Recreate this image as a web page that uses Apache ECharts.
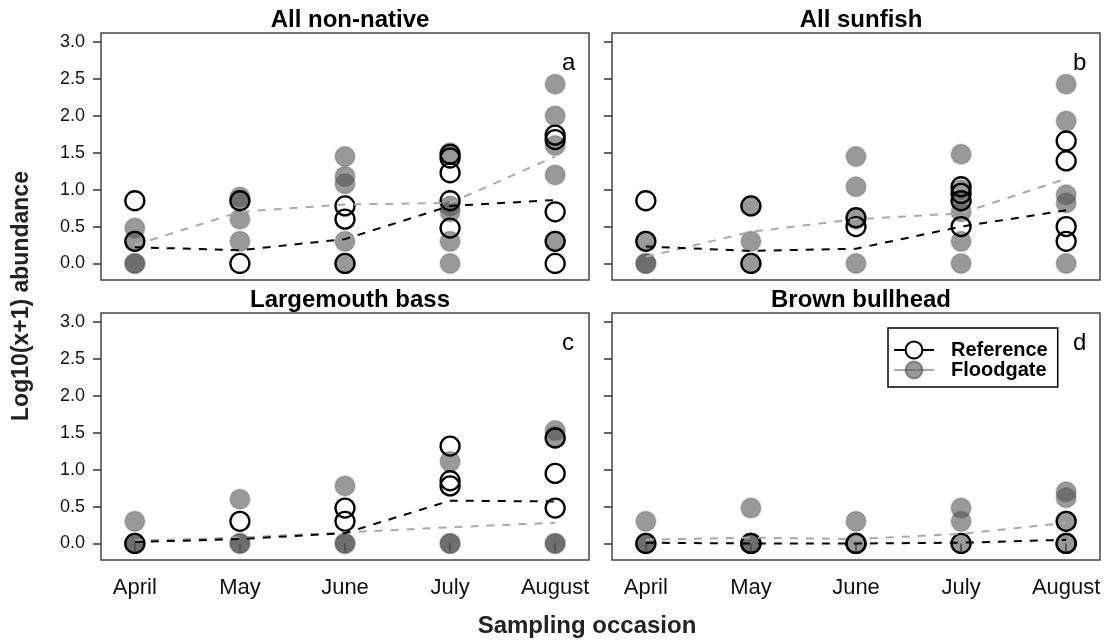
<!DOCTYPE html>
<html>
<head>
<meta charset="utf-8">
<script src="https://cdn.jsdelivr.net/npm/echarts@6/dist/echarts.min.js"></script>
<style>
html,body{margin:0;padding:0;background:#fff;}
#chart{width:1104px;height:640px;}
</style>
</head>
<body>
<div id="chart"></div>
<script>
// ---- data ----
const months = ['April', 'May', 'June', 'July', 'August'];
const yTicks = [0, 0.5, 1, 1.5, 2, 2.5, 3];
const panelTitles = ['All non-native', 'All sunfish', 'Largemouth bass', 'Brown bullhead'];
const panelLetters = ['a', 'b', 'c', 'd'];

// values per month (April..August), log10(x+1)
const nonNativeRef = [[0.85, 0.3], [0.85, 0], [0.78, 0.6, 0], [1.48, 1.43, 1.23, 0.85, 0.48], [1.74, 1.68, 0.7, 0.3, 0]];
const nonNativeFlood = [[0.48, 0.3, 0, 0], [0.9, 0.85, 0.6, 0.3], [1.45, 1.18, 1.08, 0.3, 0], [1.5, 0.78, 0.7, 0.3, 0], [2.43, 2.0, 1.6, 1.2, 0.3]];
const nonNativeRefTrend = [0.22, 0.18, 0.33, 0.78, 0.86];
const nonNativeFloodTrend = [0.25, 0.7, 0.8, 0.82, 1.45];

const sunfishRef = [[0.85, 0.3], [0.78, 0], [0.62, 0.5], [1.04, 0.95, 0.85, 0.5], [1.66, 1.39, 0.5, 0.3]];
const sunfishFlood = [[0.3, 0, 0], [0.78, 0.3, 0], [1.45, 1.04, 0.6, 0], [1.48, 1.0, 0.85, 0.7, 0.3, 0], [2.43, 1.93, 0.93, 0.82, 0]];
const sunfishRefTrend = [0.23, 0.17, 0.2, 0.5, 0.72];
const sunfishFloodTrend = [0.09, 0.43, 0.6, 0.68, 1.15];

const bassRef = [[0], [0.3], [0.48, 0.3], [1.32, 0.85, 0.78], [1.43, 0.95, 0.48]];
const bassFlood = [[0.3, 0, 0], [0.6, 0, 0], [0.78, 0, 0], [1.11, 0, 0], [1.53, 1.45, 0, 0]];
const bassRefTrend = [0.02, 0.06, 0.14, 0.58, 0.57];
const bassFloodTrend = [0.04, 0.08, 0.15, 0.22, 0.28];

const bullheadRef = [[0], [0, 0], [0, 0], [0], [0.3, 0, 0]];
const bullheadFlood = [[0.3, 0, 0], [0.48, 0, 0], [0.3, 0], [0.48, 0.3, 0], [0.7, 0.62, 0.3, 0]];
const bullheadRefTrend = [0.01, 0, 0, 0.01, 0.05];
const bullheadFloodTrend = [0.05, 0.08, 0.06, 0.13, 0.28];

// ---- build ----
const panels = [
  {ref: nonNativeRef, flood: nonNativeFlood, refT: nonNativeRefTrend, floodT: nonNativeFloodTrend},
  {ref: sunfishRef, flood: sunfishFlood, refT: sunfishRefTrend, floodT: sunfishFloodTrend},
  {ref: bassRef, flood: bassFlood, refT: bassRefTrend, floodT: bassFloodTrend},
  {ref: bullheadRef, flood: bullheadFlood, refT: bullheadRefTrend, floodT: bullheadFloodTrend}
];

const FONT = 'Liberation Sans, Arial, sans-serif';
const gridPos = [
  {left: 101, top: 33, width: 488, height: 247},
  {left: 612, top: 33, width: 488, height: 247},
  {left: 101, top: 313, width: 488, height: 247},
  {left: 612, top: 313, width: 488, height: 247}
];
const FLOOD_FILL = 'rgba(80,80,80,0.58)';
const FLOOD_LINE = '#a9a9a9';

function pts(arr) {
  const out = [];
  arr.forEach((vals, i) => vals.forEach(v => out.push([i + 1, v])));
  return out;
}
function trend(arr) { return arr.map((v, i) => [i + 1, v]); }

const grids = [], xAxes = [], yAxes = [], series = [], titles = [], graphics = [];

panels.forEach((p, k) => {
  const bottom = k >= 2, left = (k % 2) === 0;
  grids.push(Object.assign({show: true, borderColor: '#444', borderWidth: 1.5, backgroundColor: 'transparent', containLabel: false}, gridPos[k]));
  xAxes.push({
    type: 'value', gridIndex: k, min: 0.678, max: 5.322,
    axisLine: {show: false}, splitLine: {show: false},
    axisTick: {show: bottom, length: 8, customValues: [1, 2, 3, 4, 5], lineStyle: {color: '#333', width: 1.5}},
    axisLabel: {show: bottom, customValues: [1, 2, 3, 4, 5], margin: 17, fontSize: 22, color: '#111', fontFamily: FONT,
      formatter: v => months[Math.round(v) - 1]}
  });
  yAxes.push({
    type: 'value', gridIndex: k, min: -0.224, max: 3.124,
    axisLine: {show: false}, splitLine: {show: false},
    axisTick: {show: true, length: 8, customValues: yTicks, lineStyle: {color: '#333', width: 1.5}},
    axisLabel: {show: left, customValues: yTicks, margin: 16, fontSize: 18, color: '#111', fontFamily: FONT,
      formatter: v => v.toFixed(1)}
  });
  series.push({
    name: 'Reference', type: 'line', xAxisIndex: k, yAxisIndex: k, z: 5,
    data: trend(p.refT), showSymbol: false, symbol: 'circle', symbolSize: 20,
    itemStyle: {color: '#fff', borderColor: '#000', borderWidth: 2.2},
    lineStyle: {color: '#000', width: 2, type: [8, 8]}, silent: true
  });
  series.push({
    name: 'Floodgate', type: 'line', xAxisIndex: k, yAxisIndex: k, z: 4,
    data: trend(p.floodT), showSymbol: false, symbol: 'circle', symbolSize: 20,
    itemStyle: {color: FLOOD_FILL, borderColor: FLOOD_FILL, borderWidth: 1},
    lineStyle: {color: FLOOD_LINE, width: 2, type: [8, 8]}, silent: true
  });
  series.push({
    name: 'Floodgate', type: 'scatter', xAxisIndex: k, yAxisIndex: k, z: 2,
    data: pts(p.flood), symbol: 'circle', symbolSize: 20,
    itemStyle: {color: FLOOD_FILL, borderColor: 'rgba(80,80,80,0.25)', borderWidth: 1.5, opacity: 1}, silent: true
  });
  series.push({
    name: 'Reference', type: 'scatter', xAxisIndex: k, yAxisIndex: k, z: 3,
    data: pts(p.ref), symbol: 'circle', symbolSize: 19,
    itemStyle: {color: 'rgba(0,0,0,0)', borderColor: '#000', borderWidth: 2.3, opacity: 1}, silent: true
  });
  const g = gridPos[k];
  titles.push({
    text: panelTitles[k], left: g.left + g.width / 2, top: g.top - 30, textAlign: 'center',
    textStyle: {fontFamily: FONT, fontWeight: 'bold', fontSize: 24, color: '#000'}
  });
  graphics.push({
    type: 'text', left: g.left + g.width - 27, top: g.top + 18,
    style: {text: panelLetters[k], fontFamily: FONT, fontSize: 24, fill: '#000'}
  });
});

graphics.push({
  type: 'text', x: 587, y: 626,
  style: {text: 'Sampling occasion', fontFamily: FONT, fontWeight: 'bold', fontSize: 24, fill: '#222',
    align: 'center', verticalAlign: 'middle'}
});
graphics.push({
  type: 'text', x: 22, y: 296, rotation: Math.PI / 2,
  style: {text: 'Log10(x+1) abundance', fontFamily: FONT, fontWeight: 'bold', fontSize: 23, fill: '#222',
    align: 'center', verticalAlign: 'middle'}
});

const chart = echarts.init(document.getElementById('chart'), null, {renderer: 'canvas'});
chart.setOption({
  animation: false,
  backgroundColor: '#fff',
  title: titles,
  grid: grids,
  xAxis: xAxes,
  yAxis: yAxes,
  legend: {
    left: 888, top: 328, orient: 'vertical', itemGap: 0, itemWidth: 40, itemHeight: 21,
    borderColor: '#000', borderWidth: 1.5, padding: [12, 10, 7, 5], selectedMode: false,
    textStyle: {fontFamily: FONT, fontWeight: 'bold', fontSize: 20, color: '#000', padding: [0, 0, 0, 12]},
    data: [
      {name: 'Reference', lineStyle: {type: 'solid', color: '#000', width: 2}},
      {name: 'Floodgate', lineStyle: {type: 'solid', color: FLOOD_LINE, width: 2}}
    ]
  },
  graphic: graphics,
  series: series
});
</script>
</body>
</html>
